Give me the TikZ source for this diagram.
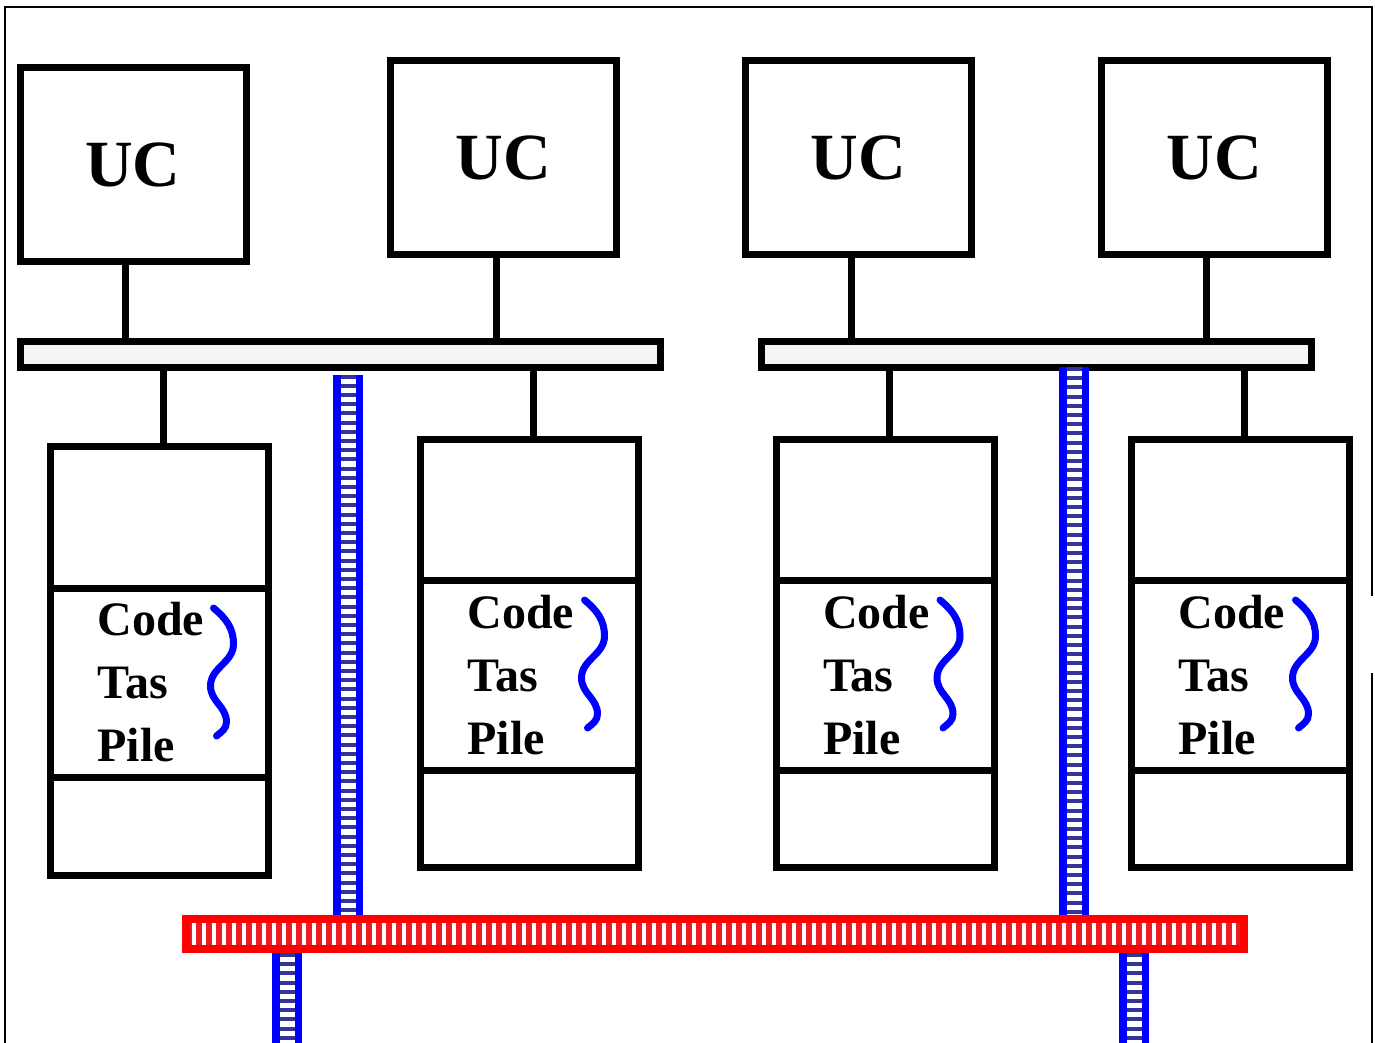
\documentclass[tikz,border=0pt]{standalone}
\usepackage{fontspec}
\setmainfont{Liberation Serif}
\usetikzlibrary{positioning}
\definecolor{linkblue}{RGB}{0, 0, 255}
\definecolor{stripeblue}{RGB}{51, 51, 153}
\definecolor{netred}{RGB}{255, 0, 0}
\definecolor{stripered}{RGB}{237, 28, 36}
\definecolor{busgray}{RGB}{245, 245, 245}

\tikzset{
  wire/.style={line width=3.5pt},
  ucbox/.style={draw, line width=3.5pt, minimum width=113pt, minimum height=97pt,
    font=\fontsize{33}{36}\selectfont\bfseries},
  bus/.style={draw, line width=3.5pt, fill=busgray, minimum height=13pt},
  membox/.style={draw, line width=3.5pt, outer sep=0pt, minimum width=109pt},
  memtext/.style={membox, align=left, text width=62pt, inner xsep=23.5pt,
    font=\fontsize{24}{31.5}\selectfont\bfseries},
  link/.style={line width=15pt, draw=linkblue,
    postaction={draw=white, line width=7.5pt},
    postaction={draw=stripeblue, line width=7.5pt, dash pattern=on 2pt off 2.6pt}},
  net/.style={draw=netred, line width=4pt, fill=white, minimum width=529pt, minimum height=15pt,
    path picture={\draw[stripered, line width=12pt, dash pattern=on 3pt off 2pt]
      (path picture bounding box.west) -- (path picture bounding box.east);}},
  wavy/.style={draw=linkblue, line width=3.5pt, line cap=round},
  wave/.pic={\draw[wavy] (0,0) to[out=-40,in=90] (20,36) to[out=-90,in=90] (-3,78)
    to[out=-90,in=90] (13,114) to[out=-90,in=40] (3,128);}
}

\begin{document}
\begin{tikzpicture}[x=0.5pt, y=-0.5pt]
\useasboundingbox (0,0) rectangle (1375,1043);

% outer frame, open on the right
\draw[line width=1pt] (1372,596) -- (1372,7) -- (5,7) -- (5,1060);
\draw[line width=1pt] (1372,673) -- (1372,1060);

% processors
\node[ucbox] (uc1) at (133,165) {UC};
\node[ucbox] (uc2) at (503.5,157.5) {UC};
\node[ucbox] (uc3) at (858.5,157.5) {UC};
\node[ucbox] (uc4) at (1214,157.5) {UC};

% local buses
\node[bus, minimum width=320pt] (busL) at (340.5,354.5) {};
\node[bus, minimum width=275pt] (busR) at (1036.5,354.5) {};

\draw[wire] ([xshift=-3.75pt]uc1.south) -- ([xshift=-3.75pt]uc1.south |- busL.north);
\draw[wire] ([xshift=-3.75pt]uc2.south) -- ([xshift=-3.75pt]uc2.south |- busL.north);
\draw[wire] ([xshift=-3.75pt]uc3.south) -- ([xshift=-3.75pt]uc3.south |- busR.north);
\draw[wire] ([xshift=-3.75pt]uc4.south) -- ([xshift=-3.75pt]uc4.south |- busR.north);

% memories
\node[membox, minimum height=71pt] (m1top) at (159.5,517) {};
\node[memtext, minimum height=94.5pt, below=0pt of m1top] (m1mid) {Code\\Tas\\Pile};
\node[membox, minimum height=49pt, below=0pt of m1mid] (m1bot) {};

\node[membox, minimum height=70.5pt] (m2top) at (529.5,509.5) {};
\node[memtext, minimum height=95pt, below=0pt of m2top] (m2mid) {Code\\Tas\\Pile};
\node[membox, minimum height=48.5pt, below=0pt of m2mid] (m2bot) {};

\node[membox, minimum height=70.5pt] (m3top) at (885,509.5) {};
\node[memtext, minimum height=95pt, below=0pt of m3top] (m3mid) {Code\\Tas\\Pile};
\node[membox, minimum height=48.5pt, below=0pt of m3mid] (m3bot) {};

\node[membox, minimum height=70.5pt] (m4top) at (1240.5,509.5) {};
\node[memtext, minimum height=95pt, below=0pt of m4top] (m4mid) {Code\\Tas\\Pile};
\node[membox, minimum height=48.5pt, below=0pt of m4mid] (m4bot) {};

\pic at ([shift={(-27.5pt,-10pt)}]m1mid.north east) {wave};
\pic at ([shift={(-27pt,-10pt)}]m2mid.north east) {wave};
\pic at ([shift={(-27pt,-10pt)}]m3mid.north east) {wave};
\pic at ([shift={(-27pt,-10pt)}]m4mid.north east) {wave};

\draw[wire] ([xshift=2pt]m1top.north) -- ([xshift=2pt]m1top.north |- busL.south);
\draw[wire] ([xshift=2pt]m2top.north) -- ([xshift=2pt]m2top.north |- busL.south);
\draw[wire] ([xshift=2pt]m3top.north) -- ([xshift=2pt]m3top.north |- busR.south);
\draw[wire] ([xshift=2pt]m4top.north) -- ([xshift=2pt]m4top.north |- busR.south);

% interconnect
\node[net] (net) at (715,934) {};
\coordinate (outL) at (287,1060);
\coordinate (outR) at (1134,1060);

\draw[link] ([xshift=3.75pt, yshift=-1.75pt]busL.south) -- ([xshift=3.75pt]busL.south |- net.north);
\draw[link] ([xshift=18.75pt, yshift=2pt]busR.south) -- ([xshift=18.75pt]busR.south |- net.north);
\draw[link] (outL |- net.south) -- (outL);
\draw[link] (outR |- net.south) -- (outR);
\end{tikzpicture}
\end{document}
